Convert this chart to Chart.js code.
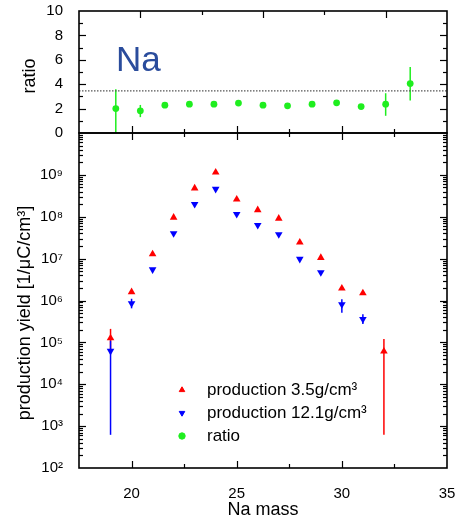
<!DOCTYPE html>
<html>
<head>
<meta charset="utf-8">
<script src="https://cdn.jsdelivr.net/npm/chart.js@4.4.1/dist/chart.umd.min.js"></script>
<style>
  body { margin: 0; background: #fff; }
  #wrap { position: relative; width: 457px; height: 525px; }
  canvas { position: absolute; left: 0; }
  #ratioChart { top: 0; }
  #yieldChart { top: 120px; }
</style>
</head>
<body>
<div id="wrap">
  <canvas id="ratioChart" width="457" height="140"></canvas>
  <canvas id="yieldChart" width="457" height="405"></canvas>
</div>
<script>
"use strict";

// production yield, 3.5 g/cm3 target (red)
const massRed = [19, 20, 21, 22, 23, 24, 25, 26, 27, 28, 29, 30, 31, 32];
const yieldRed = [1.26e5, 1.6e6, 1.28e7, 9.6e7, 4.8e8, 1.15e9, 2.6e8, 1.45e8, 9.1e7, 2.45e7, 1.05e7, 1.95e6, 1.5e6, 6.1e4];
const errLoRed = [6.5e4, null, null, null, null, null, null, null, null, null, null, null, null, 6.2e2];
const errHiRed = [2.1e5, null, null, null, null, null, null, null, null, null, null, null, null, 1.2e5];

// production yield, 12.1 g/cm3 target (blue)
const massBlue = [19, 20, 21, 22, 23, 24, 25, 26, 27, 28, 29, 30, 31];
const yieldBlue = [6.2e4, 8.5e5, 5.5e6, 4.0e7, 2.0e8, 4.6e8, 1.15e8, 6.3e7, 3.8e7, 9.8e6, 4.7e6, 8.1e5, 3.6e5];
const errLoBlue = [6.2e2, 6.5e5, null, null, null, null, null, null, null, null, null, 5.1e5, 2.75e5];
const errHiBlue = [1.1e5, 1.1e6, null, null, null, null, null, null, null, null, null, 1.07e6, 4.7e5];

// ratio panel
const massRatio = [19, 20, 21, 22, 23, 24, 25, 26, 27, 28, 29, 30, 31];
const ratio = [2.0, 1.82, 2.28, 2.36, 2.36, 2.45, 2.28, 2.23, 2.36, 2.47, 2.17, 2.36, 4.05];
const errLoRatio = [0, 1.3, null, null, null, null, null, null, null, null, null, 1.41, 2.66];
const errHiRatio = [3.59, 2.3, null, null, null, null, null, null, null, null, null, 3.26, 5.41];
const densityRatio = 12.1 / 3.5;  // dotted line

const yieldTicks = [1e2, 1e3, 1e4, 1e5, 1e6, 1e7, 1e8, 1e9];
const massTicks = [20, 25, 30, 35];

const FONT = '"Liberation Sans", Arial, sans-serif';
Chart.defaults.font.family = FONT;
Chart.defaults.color = '#000';

const toPoints = (xs, ys) => xs.map((x, i) => ({ x: x, y: ys[i] }));
const sup = '⁰¹²³⁴⁵⁶⁷⁸⁹';
const powLabel = v => '10' + String(Math.round(Math.log10(v))).split('').map(d => sup[d]).join('');

// fixed axis box size, no label overhang padding
const fixSize = (w, h) => s => {
  if (w != null) s.width = w;
  if (h != null) s.height = h;
  s.paddingTop = s.paddingBottom = s.paddingLeft = s.paddingRight = 0;
};

// vertical error bars under the markers
const errorBars = {
  id: 'errorBars',
  beforeDatasetsDraw(chart) {
    const ctx = chart.ctx;
    chart.data.datasets.forEach(ds => {
      if (!ds.errLo) return;
      const xs = chart.scales[ds.xAxisID || 'x'];
      const ys = chart.scales[ds.yAxisID || 'y'];
      ctx.save();
      ctx.strokeStyle = ds.borderColor;
      ctx.lineWidth = 1.5;
      ds.data.forEach((p, j) => {
        const lo = ds.errLo[j], hi = ds.errHi[j];
        if (lo == null || hi == null) return;
        const x = xs.getPixelForValue(p.x);
        ctx.beginPath();
        ctx.moveTo(x, ys.getPixelForValue(Math.max(lo, ys.min)));
        ctx.lineTo(x, ys.getPixelForValue(hi));
        ctx.stroke();
      });
      ctx.restore();
    });
  }
};

// tick positions along one edge
const tickValues = (s, step, major) => {
  const out = [];
  if (s.type === 'logarithmic') {
    for (let e = Math.floor(Math.log10(s.min)); e <= Math.log10(s.max); e++) {
      for (let k = 1; k <= 9; k++) {
        const v = k * Math.pow(10, e);
        if (v > s.min * 1.0001 && v < s.max * 0.9999) out.push({ v: v, major: k === 1 });
      }
    }
  } else {
    for (let v = Math.ceil(s.min / step) * step; v < s.max - 1e-9; v += step) {
      if (v <= s.min + 1e-9) continue;
      const q = v / major;
      out.push({ v: v, major: Math.abs(q - Math.round(q)) < 1e-6 });
    }
  }
  return out;
};

// box around the plot with inward ticks
const frameTicks = {
  id: 'frameTicks',
  afterDraw(chart, args, opts) {
    const { ctx, chartArea: a } = chart;
    ctx.save();
    ctx.strokeStyle = '#000';
    ctx.lineWidth = 1.2;
    (opts.edges || []).forEach(e => {
      const s = chart.scales[e.scale];
      tickValues(s, e.step, e.major).forEach(t => {
        const p = Math.round(s.getPixelForValue(t.v)) + 0.5;
        const len = t.major ? 7 : 4;
        ctx.beginPath();
        if (e.side === 'left') { ctx.moveTo(a.left, p); ctx.lineTo(a.left + len, p); }
        if (e.side === 'right') { ctx.moveTo(a.right, p); ctx.lineTo(a.right - len, p); }
        if (e.side === 'top') { ctx.moveTo(p, a.top); ctx.lineTo(p, a.top + len); }
        if (e.side === 'bottom') { ctx.moveTo(p, a.bottom); ctx.lineTo(p, a.bottom - len); }
        ctx.stroke();
      });
    });
    ctx.lineWidth = 1.6;
    ctx.strokeRect(a.left, a.top, a.right - a.left, a.bottom - a.top);
    ctx.restore();
  }
};

// free text drawn on the canvas (axis titles, element label)
const canvasTexts = {
  id: 'canvasTexts',
  afterDraw(chart, args, opts) {
    const ctx = chart.ctx;
    (opts.items || []).forEach(t => {
      ctx.save();
      ctx.font = t.font;
      ctx.fillStyle = t.color || '#000';
      ctx.textAlign = t.align || 'center';
      ctx.textBaseline = t.baseline || 'middle';
      ctx.translate(t.x, t.y);
      if (t.rotate) ctx.rotate(t.rotate);
      ctx.fillText(t.text, 0, 0);
      ctx.restore();
    });
  }
};

// legend drawn inside the plot area
const insideLegend = {
  id: 'insideLegend',
  afterDraw(chart, args, opts) {
    const { ctx, chartArea: a } = chart;
    ctx.save();
    ctx.font = '17px ' + FONT;
    ctx.textBaseline = 'middle';
    opts.items.forEach((it, i) => {
      const y = a.top + opts.top + i * opts.rowHeight;
      ctx.fillStyle = it.backgroundColor;
      ctx.strokeStyle = it.borderColor;
      Chart.helpers.drawPoint(ctx, { pointStyle: it.pointStyle, radius: 3.2, rotation: it.rotation || 0, borderWidth: 1 }, a.left + opts.left, y);
      ctx.fillStyle = '#000';
      ctx.fillText(it.label, a.left + opts.textLeft, y);
    });
    ctx.restore();
  }
};

const ratioSet = {
  label: 'ratio',
  data: toPoints(massRatio, ratio),
  errLo: errLoRatio,
  errHi: errHiRatio,
  backgroundColor: '#1fee1f',
  borderColor: '#1fee1f',
  pointStyle: 'circle',
  pointRadius: 3.4,
  borderWidth: 0
};

const hidden = { display: true, ticks: { display: false }, grid: { display: false }, border: { display: false } };

new Chart(document.getElementById('ratioChart'), {
  type: 'scatter',
  data: {
    datasets: [
      ratioSet,
      {
        label: 'density ratio',
        type: 'line',
        data: [{ x: 17.5, y: densityRatio }, { x: 32.5, y: densityRatio }],
        borderColor: '#555',
        borderWidth: 1.2,
        borderDash: [1.5, 1.5],
        pointRadius: 0
      }
    ]
  },
  options: {
    responsive: false,
    animation: false,
    layout: { padding: { right: 10 }, autoPadding: false },
    scales: {
      x: Object.assign({}, hidden, { type: 'linear', position: 'top', min: 17.5, max: 32.5,
        afterFit: fixSize(null, 11) }),
      xb: Object.assign({}, hidden, { type: 'linear', position: 'bottom', min: 17.5, max: 35,
        afterFit: fixSize(null, 7) }),
      y: {
        min: 0, max: 10,
        ticks: { stepSize: 2, padding: 8, font: { size: 15 } },
        grid: { display: false },
        border: { display: false },
        afterFit: fixSize(79, null)
      }
    },
    plugins: {
      legend: { display: false },
      tooltip: { enabled: false },
      frameTicks: {
        edges: [
          { scale: 'y', side: 'left', step: 1, major: 2 },
          { scale: 'y', side: 'right', step: 1, major: 2 },
          { scale: 'x', side: 'top', step: 2.5, major: 5 },
          { scale: 'xb', side: 'bottom', step: 2.5, major: 5 }
        ]
      },
      canvasTexts: {
        items: [
          { text: 'ratio', x: 30, y: 76, rotate: -Math.PI / 2, font: '18px ' + FONT },
          { text: 'Na', x: 116, y: 71, align: 'left', baseline: 'alphabetic', font: '35px ' + FONT, color: '#2a4c9c' }
        ]
      }
    }
  },
  plugins: [errorBars, frameTicks, canvasTexts]
});

const redSet = {
  label: 'production 3.5g/cm³',
  data: toPoints(massRed, yieldRed),
  errLo: errLoRed,
  errHi: errHiRed,
  backgroundColor: '#ff0000',
  borderColor: '#ff0000',
  pointStyle: 'triangle',
  pointRadius: 4.4,
  borderWidth: 0
};
const blueSet = {
  label: 'production 12.1g/cm³',
  data: toPoints(massBlue, yieldBlue),
  errLo: errLoBlue,
  errHi: errHiBlue,
  backgroundColor: '#0000ff',
  borderColor: '#0000ff',
  pointStyle: 'triangle',
  rotation: 180,
  pointRadius: 4.4,
  borderWidth: 0
};

new Chart(document.getElementById('yieldChart'), {
  type: 'scatter',
  data: { datasets: [redSet, blueSet] },
  options: {
    responsive: false,
    animation: false,
    layout: { padding: { top: 13, right: 10 }, autoPadding: false },
    scales: {
      x: {
        type: 'linear', min: 17.5, max: 35,
        afterBuildTicks: s => { s.ticks = massTicks.map(v => ({ value: v })); },
        ticks: { padding: 9, font: { size: 15 } },
        grid: { display: false },
        border: { display: false },
        title: { display: true, text: 'Na mass', font: { size: 18 }, padding: { bottom: 4 } },
        afterFit: fixSize(null, 57)
      },
      y: {
        type: 'logarithmic', min: 1e2, max: 1e10,
        afterBuildTicks: s => { s.ticks = yieldTicks.map(v => ({ value: v })); },
        ticks: { padding: 8, font: { size: 15 }, callback: v => powLabel(v) },
        grid: { display: false },
        border: { display: false },
        afterFit: fixSize(79, null)
      }
    },
    plugins: {
      legend: { display: false },
      tooltip: { enabled: false },
      frameTicks: {
        edges: [
          { scale: 'y', side: 'left' },
          { scale: 'y', side: 'right' },
          { scale: 'x', side: 'top', step: 2.5, major: 5 },
          { scale: 'x', side: 'bottom', step: 2.5, major: 5 }
        ]
      },
      canvasTexts: {
        items: [
          { text: 'production yield [1/\u03bcC/cm\u00b3]', x: 25, y: 193, rotate: -Math.PI / 2, font: '18px ' + FONT }
        ]
      },
      insideLegend: {
        items: [redSet, blueSet, ratioSet],
        left: 103, textLeft: 128, top: 257, rowHeight: 23
      }
    }
  },
  plugins: [errorBars, frameTicks, canvasTexts, insideLegend]
});
</script>
</body>
</html>
